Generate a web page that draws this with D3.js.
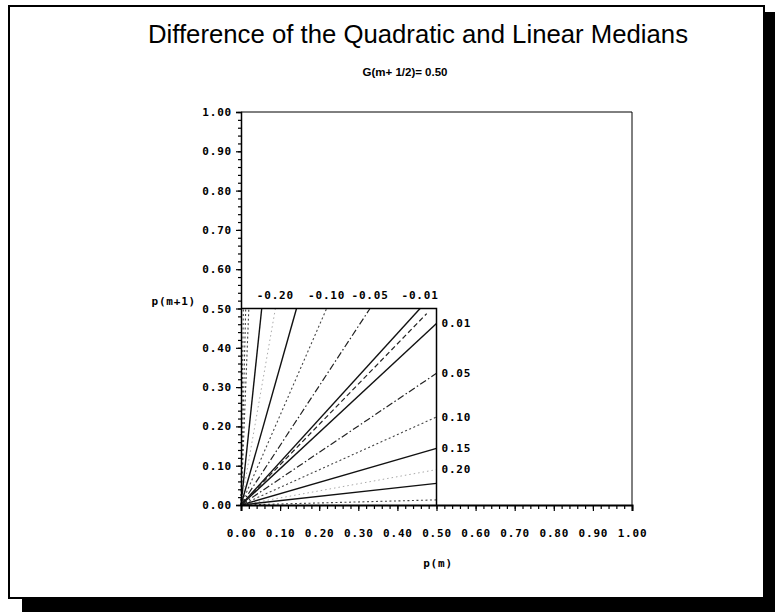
<!DOCTYPE html>
<html>
<head>
<meta charset="utf-8">
<script src="https://cdn.jsdelivr.net/npm/d3@7"></script>
<style>
  html, body { margin: 0; padding: 0; background: #fff; }
  svg { display: block; }
  .tick text, .lbl { font-family: "DejaVu Sans Mono", monospace; font-weight: bold; font-size: 11px; letter-spacing: 0.8px; fill: #000; }
</style>
</head>
<body>
<svg id="chart" width="775" height="612"></svg>
<script>
// ---- data ----
const title = "Difference of the Quadratic and Linear Medians";
const subtitle = "G(m+ 1/2)= 0.50";
const xLabel = "p(m)";
const yLabel = "p(m+1)";
const majorTicks = [0.0, 0.1, 0.2, 0.3, 0.4, 0.5, 0.6, 0.7, 0.8, 0.9, 1.0];
const minorTicks = d3.range(0, 51).map(i => i / 50);
const innerMax = 0.5;

// contours ending on the top edge p(m+1)=0.50 : p(m) of end point
const topEndX   = [0.006, 0.012, 0.020, 0.053, 0.088, 0.142, 0.219, 0.330, 0.458];
const topLabels = ["", "", "", "", "-0.20", "", "-0.10", "-0.05", "-0.01"];
// contours ending on the right edge p(m)=0.50 : p(m+1) of end point
const rightEndY   = [0.462, 0.335, 0.224, 0.144, 0.090, 0.055, 0.013];
const rightLabels = ["0.01", "0.05", "0.10", "0.15", "0.20", "", ""];
// central contour (near the diagonal)
const diagEnd = [0.475, 0.487];

// ---- styles (not data) ----
const topStyles   = ["dot", "dot", "dot", "solid", "faint", "solid", "dot", "dashdot", "solid"];
const rightStyles = ["solid", "dashdot", "dot", "solid", "faint", "solid", "dot"];
const styleMap = {
  solid:   { stroke: "#111", width: 1.4, dash: null },
  dot:     { stroke: "#444", width: 1.1, dash: "2,2.5" },
  faint:   { stroke: "#aaa", width: 1.0, dash: "1.5,3" },
  dashdot: { stroke: "#222", width: 1.2, dash: "7,2.5,1.5,2.5" },
  dashed:  { stroke: "#222", width: 1.2, dash: "5,3" }
};

const svg = d3.select("#chart");

// frame + drop shadow
svg.append("rect").attr("x", 764).attr("y", 12).attr("width", 11).attr("height", 600).attr("fill", "#000");
svg.append("rect").attr("x", 22).attr("y", 598).attr("width", 753).attr("height", 14).attr("fill", "#000");
svg.append("rect").attr("x", 9).attr("y", 6).attr("width", 755).attr("height", 592)
  .attr("fill", "#fff").attr("stroke", "#000").attr("stroke-width", 2);

// titles
svg.append("text").attr("x", 418).attr("y", 43).attr("text-anchor", "middle")
  .attr("font-family", "Liberation Sans, Arial, sans-serif").attr("font-size", 26)
  .attr("textLength", 540).attr("lengthAdjust", "spacingAndGlyphs")
  .text(title);
svg.append("text").attr("x", 405).attr("y", 76).attr("text-anchor", "middle")
  .attr("font-family", "Liberation Sans, Arial, sans-serif").attr("font-size", 11.5).attr("font-weight", "bold")
  .text(subtitle);

// scales
const x = d3.scaleLinear().domain([0, 1]).range([241, 632]);
const y = d3.scaleLinear().domain([0, 1]).range([505, 112]);
const fmt = d3.format(".2f");

// outer plot border (top + right)
svg.append("path")
  .attr("d", `M${x(0)},${y(1)}H${x(1)}V${y(0)}`)
  .attr("fill", "none").attr("stroke", "#000").attr("stroke-width", 1);

// contour lines
const line = d3.line().x(d => x(d[0])).y(d => y(d[1]));
function drawLine(pts, st) {
  const s = styleMap[st];
  svg.append("path").attr("d", line(pts)).attr("fill", "none")
    .attr("stroke", s.stroke).attr("stroke-width", s.width)
    .attr("stroke-dasharray", s.dash);
}
topEndX.forEach((v, i) => drawLine([[0, 0], [v, innerMax]], topStyles[i]));
rightEndY.forEach((v, i) => drawLine([[0, 0], [innerMax, v]], rightStyles[i]));
drawLine([[0, 0], diagEnd], "dashed");

// inner box (top + right edges at 0.50)
svg.append("path")
  .attr("d", `M${x(0)},${y(innerMax)}H${x(innerMax)}V${y(0)}`)
  .attr("fill", "none").attr("stroke", "#000").attr("stroke-width", 1.5);

// contour labels
svg.append("g").selectAll("text").data(topEndX.map((v, i) => ({ v, t: topLabels[i] })).filter(d => d.t))
  .join("text").attr("class", "lbl")
  .attr("x", d => x(d.v)).attr("y", y(innerMax) - 10).attr("text-anchor", "middle")
  .text(d => d.t);
svg.append("g").selectAll("text").data(rightEndY.map((v, i) => ({ v, t: rightLabels[i] })).filter(d => d.t))
  .join("text").attr("class", "lbl")
  .attr("x", x(innerMax) + 5).attr("y", d => y(d.v)).attr("dy", "0.35em")
  .text(d => d.t);

// axes
const gx = svg.append("g").attr("transform", `translate(0,${y(0)})`);
gx.append("g").call(d3.axisBottom(x).tickValues(minorTicks).tickSize(4).tickFormat(""))
  .call(g => g.select(".domain").remove());
gx.append("g").call(d3.axisBottom(x).tickValues(majorTicks).tickSize(6).tickPadding(18).tickFormat(fmt));
gx.selectAll("path.domain").attr("stroke-width", 2);
gx.selectAll("line").attr("stroke", "#000").attr("stroke-width", 1.2);

const gy = svg.append("g").attr("transform", `translate(${x(0)},0)`);
gy.append("g").call(d3.axisLeft(y).tickValues(minorTicks).tickSize(3).tickFormat(""))
  .call(g => g.select(".domain").remove());
gy.append("g").call(d3.axisLeft(y).tickValues(majorTicks).tickSize(5).tickPadding(4).tickFormat(fmt));
gy.selectAll("path.domain").attr("stroke-width", 1.5);
gy.selectAll("line").attr("stroke", "#000").attr("stroke-width", 1.2);

// axis titles
svg.append("text").attr("class", "lbl").attr("x", 196).attr("y", 305).attr("text-anchor", "end").text(yLabel);
svg.append("text").attr("class", "lbl").attr("x", 438).attr("y", 567).attr("text-anchor", "middle").text(xLabel);
</script>
</body>
</html>
